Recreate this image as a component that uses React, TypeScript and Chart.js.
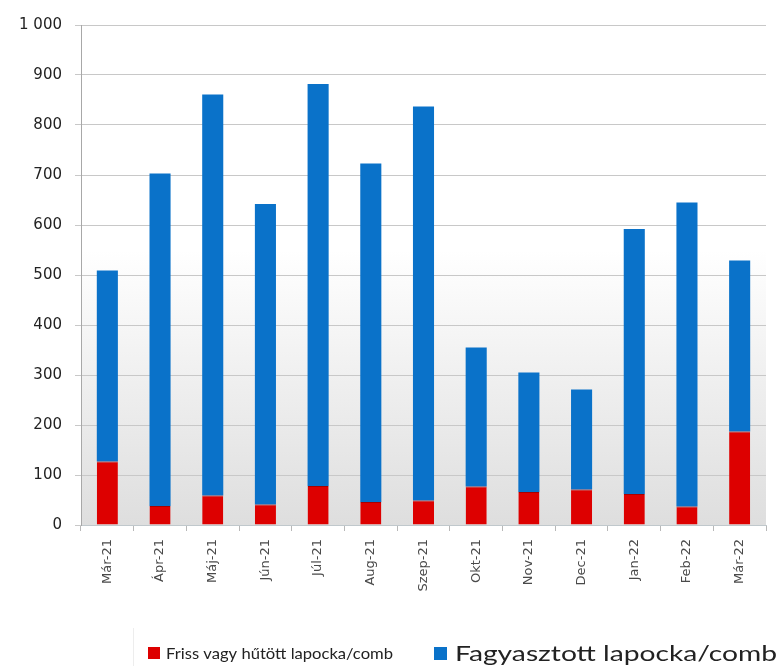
import React, { useEffect, useRef } from "react";
import { Chart, registerables } from "chart.js";

Chart.register(...registerables);

const categories = [
  "Már-21", "Ápr-21", "Máj-21", "Jún-21", "Júl-21", "Aug-21", "Szep-21",
  "Okt-21", "Nov-21", "Dec-21", "Jan-22", "Feb-22", "Már-22",
];
const freshLabel = "Friss vagy hűtött lapocka/comb";
const frozenLabel = "Fagyasztott lapocka/comb";
const freshValues = [127, 38, 59, 41, 78, 46, 49, 77, 66, 71, 62, 37, 187];
const frozenValues = [382, 665, 802, 601, 804, 677, 788, 278, 239, 200, 530, 608, 342];
const yTicks = [0, 100, 200, 300, 400, 500, 600, 700, 800, 900, 1000];

const fmt = (v: number) => String(v).replace(/\B(?=(\d{3})+(?!\d))/g, " ");

const bgPlugin = {
  id: "plotBg",
  beforeDraw(chart: any) {
    const { ctx, chartArea: a } = chart;
    const g = ctx.createLinearGradient(0, a.top, 0, a.bottom);
    g.addColorStop(0, "#ffffff");
    g.addColorStop(0.45, "#ffffff");
    g.addColorStop(1, "#dedede");
    ctx.save();
    ctx.fillStyle = g;
    ctx.fillRect(a.left, a.top, a.right - a.left, a.bottom - a.top);
    ctx.restore();
  },
};

function drawFitText(ctx: CanvasRenderingContext2D, text: string, x: number, y: number, size: number, width: number) {
  ctx.font = `${size}px Lato`;
  const w = ctx.measureText(text).width;
  ctx.save();
  ctx.translate(x, y);
  ctx.scale(width / w, 1);
  ctx.fillText(text, 0, 0);
  ctx.restore();
}

const legendPlugin = {
  id: "customLegend",
  afterDraw(chart: any) {
    const ctx = chart.ctx as CanvasRenderingContext2D;
    const ds = chart.data.datasets;
    ctx.save();
    ctx.strokeStyle = "#ededed";
    ctx.lineWidth = 1;
    ctx.beginPath();
    ctx.moveTo(133.5, 628);
    ctx.lineTo(133.5, 666);
    ctx.stroke();
    ctx.fillStyle = ds[0].backgroundColor;
    ctx.fillRect(148, 647, 12, 12);
    ctx.fillStyle = ds[1].backgroundColor;
    ctx.fillRect(434, 647, 13, 13);
    ctx.fillStyle = "#222";
    ctx.textBaseline = "alphabetic";
    ctx.textAlign = "left";
    drawFitText(ctx, ds[0].label, 166, 659, 15, 227);
    drawFitText(ctx, ds[1].label, 455, 661, 21, 322);
    ctx.restore();
  },
};

export default function App() {
  const ref = useRef<HTMLCanvasElement>(null);
  useEffect(() => {
    document.body.style.margin = "0";
    const chart = new Chart(ref.current!, {
      type: "bar",
      data: {
        labels: categories,
        datasets: [
          {
            label: freshLabel,
            data: freshValues,
            backgroundColor: "#dd0000",
            borderColor: "#a80000",
            borderWidth: { top: 1, left: 0, right: 0, bottom: 0 },
            borderSkipped: false,
          },
          {
            label: frozenLabel,
            data: frozenValues,
            backgroundColor: "#0a72c9",
            borderWidth: 0,
          },
        ],
      },
      options: {
        animation: false,
        responsive: false,
        maintainAspectRatio: false,
        layout: { padding: { top: 25, right: 13, left: 0, bottom: 0 } },
        datasets: { bar: { barPercentage: 0.4, categoryPercentage: 1 } },
        plugins: { legend: { display: false }, tooltip: { enabled: false } },
        scales: {
          x: {
            stacked: true,
            offset: true,
            grid: { drawOnChartArea: false, drawTicks: true, tickLength: 6, color: "#b8b8b8", offset: true },
            border: { color: "#c0c8cc" },
            ticks: {
              minRotation: 90,
              maxRotation: 90,
              padding: 8,
              color: "#4a4a4a",
              font: { family: "DejaVu Sans", size: 13 },
            },
            afterFit: (s: any) => { s.height = 141; },
          },
          y: {
            stacked: true,
            min: 0,
            max: 1000,
            afterBuildTicks: (s: any) => { s.ticks = yTicks.map((v) => ({ value: v })); },
            grid: { color: "#c8c8c8", tickLength: 6 },
            border: { color: "#a8a8a8" },
            ticks: {
              padding: 13,
              color: "#222",
              font: { family: "DejaVu Sans", size: 15 },
              callback: (v: any) => fmt(Number(v)),
            },
            afterFit: (s: any) => { s.width = 81; },
          },
        },
      },
      plugins: [bgPlugin, legendPlugin],
    } as any);
    return () => chart.destroy();
  }, []);
  return (
    <div style={{ position: "absolute", left: 0, top: 0, width: 779, height: 666 }}>
      <canvas ref={ref} width={779} height={666} style={{ width: 779, height: 666 }} />
    </div>
  );
}
